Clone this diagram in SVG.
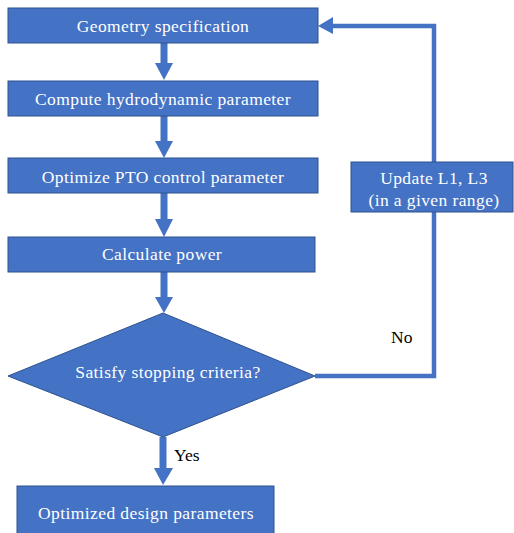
<svg xmlns="http://www.w3.org/2000/svg" width="514" height="533" viewBox="0 0 514 533">
<style>
.box{fill:#4472C4;stroke:#2F528F;stroke-width:1}
.t{font-size:17.5px;letter-spacing:0.4px;fill:#FFFFFF;text-anchor:middle}
.lbl{font-size:17.5px;fill:#000000}
.shaft{stroke:#4472C4;stroke-width:7;fill:none}
.loop{stroke:#4472C4;stroke-width:4.5;fill:none}
.head{fill:#4472C4}
</style>
<rect width="514" height="533" fill="#FFFFFF"/>
<g font-family="'Liberation Serif', 'DejaVu Serif', serif">
<g id="connectors">
<line class="shaft" x1="164" y1="43" x2="164" y2="64"/>
<polygon class="head" points="155,63 173,63 164,80"/>
<line class="shaft" x1="164" y1="116" x2="164" y2="142"/>
<polygon class="head" points="155,141 173,141 164,158"/>
<line class="shaft" x1="164" y1="193" x2="164" y2="220"/>
<polygon class="head" points="155,219 173,219 164,237"/>
<line class="shaft" x1="164" y1="272" x2="164" y2="298"/>
<polygon class="head" points="155,297 173,297 164,313"/>
<polyline class="loop" points="315,376 434,376 434,212"/>
<polyline class="loop" points="434,162 434,26 332,26"/>
<polygon class="head" points="333,17 333,34 318,26"/>
<line class="shaft" x1="163" y1="437" x2="163" y2="469"/>
<polygon class="head" points="154,468 173,468 163,485"/>
<text class="lbl" x="391" y="343">No</text>
<text class="lbl" x="174" y="461">Yes</text>
</g>
<g id="n1"><rect class="box" x="8" y="8" width="310" height="35"/><text class="t" x="163" y="32">Geometry specification</text></g>
<g id="n2"><rect class="box" x="8" y="81" width="310" height="35"/><text class="t" x="163" y="105">Compute hydrodynamic parameter</text></g>
<g id="n3"><rect class="box" x="8" y="158" width="310" height="35"/><text class="t" x="163" y="183">Optimize PTO control parameter</text></g>
<g id="n4"><rect class="box" x="8" y="237" width="307" height="35"/><text class="t" x="162" y="260">Calculate power</text></g>
<g id="n5"><polygon class="box" points="163,313 315,376 163,437 8,376"/><text class="t" x="168" y="378">Satisfy stopping criteria?</text></g>
<g id="n6"><rect class="box" x="351" y="162" width="162" height="50"/><text class="t" x="434" y="184">Update L1, L3</text><text class="t" x="434" y="206">(in a given range)</text></g>
<g id="n7"><rect class="box" x="17" y="486" width="257" height="60"/><text class="t" x="146" y="519">Optimized design parameters</text></g>
</g>
</svg>
